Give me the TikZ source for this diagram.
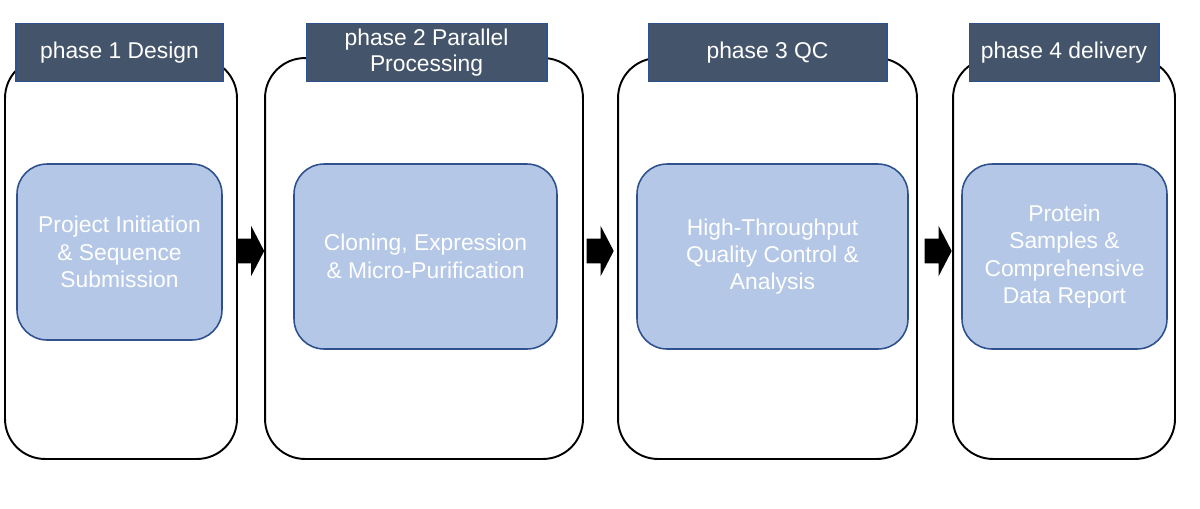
\documentclass[tikz,border=0pt]{standalone}
\usepackage{fontspec}
\setmainfont{Liberation Sans}
\usepackage{tikz}
\usetikzlibrary{shapes.arrows}

\definecolor{headfill}{HTML}{44546A}
\definecolor{boxline}{HTML}{2F528F}
\definecolor{boxfill}{HTML}{B4C7E7}

\begin{document}
\begin{tikzpicture}[
	x=0.02cm, y=-0.02cm,
	phase/.style={draw=black, line width=1.1pt, rounded corners=0.8cm, minimum height=8.02cm, inner sep=0pt},
	header/.style={draw=boxline, fill=headfill, line width=0.6pt, minimum height=1.16cm, inner sep=0pt,
		text=white, align=center, font=\fontsize{13}{14.5}\selectfont},
	stepbox/.style={draw=boxline, fill=boxfill, line width=0.9pt, rounded corners=0.6cm, minimum height=3.7cm,
		inner sep=0pt, text=white, align=center, font=\fontsize{13}{15.6}\selectfont},
	blockarrow/.style={single arrow, fill=black, inner xsep=0pt, inner ysep=0.24cm, minimum height=0.54cm,
		single arrow head extend=0.26cm, single arrow tip angle=125}
	]
	
	\useasboundingbox (0,0) rectangle (1200,508);
	
	%-----------------------
	% Customizable heights
	%-----------------------
	\def\hphase{258.5} % outer frames
	\def\hhead{52.5}   % phase titles
	\def\hstep{256.5}  % step boxes
	\def\harrow{251}   % block arrows
	
	%-----------------------
	% Outer frames
	%-----------------------
	\node[phase, minimum width=4.64cm] (P-1) at (121,\hphase) {};
	\node[phase, minimum width=6.36cm] (P-2) at (424,\hphase) {};
	\node[phase, minimum width=5.98cm] (P-3) at (767.5,\hphase) {};
	\node[phase, minimum width=4.44cm] (P-4) at (1064,\hphase) {};
	
	%-----------------------
	% Phase titles
	%-----------------------
	\node[header, minimum width=4.14cm] (H-1) at (119.5,\hhead) {phase 1 Design};
	\node[header, minimum width=4.82cm] (H-2) at (426.5,\hhead) {phase 2 Parallel\\Processing};
	\node[header, minimum width=4.78cm] (H-3) at (767.5,\hhead) {phase 3 QC};
	\node[header, minimum width=3.8cm]  (H-4) at (1064,\hhead) {phase 4 delivery};
	
	%-----------------------
	% Step boxes
	%-----------------------
	\node[stepbox, minimum width=4.1cm, minimum height=3.52cm] (S-1) at (119.5,252) {Project Initiation\\\& Sequence\\Submission};
	\node[stepbox, minimum width=5.26cm] (S-2) at (425.5,\hstep) {Cloning, Expression\\\& Micro-Purification};
	\node[stepbox, minimum width=5.42cm] (S-3) at (772.5,\hstep) {High-Throughput\\Quality Control \&\\Analysis};
	\node[stepbox, minimum width=4.1cm]  (S-4) at (1064.5,\hstep) {Protein\\Samples \&\\Comprehensive\\Data Report};
	
	%-----------------------
	% Block arrows between phases
	%-----------------------
	\node[blockarrow] (A-1) at (247.5,\harrow) {};
	\node[blockarrow] (A-2) at (597,\harrow) {};
	\node[blockarrow] (A-3) at (935,\harrow) {};
	
\end{tikzpicture}
\end{document}
